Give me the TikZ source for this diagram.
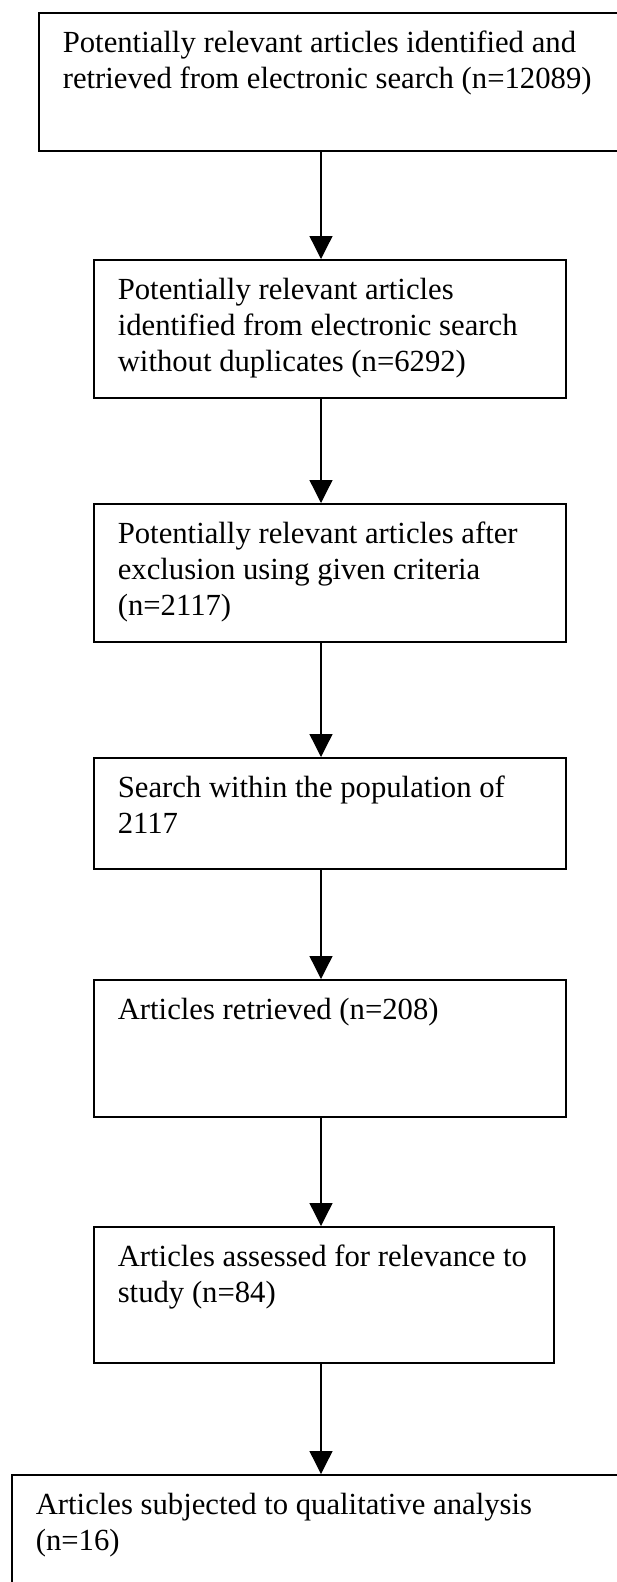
\documentclass[tikz,border=0pt]{standalone}
\usepackage{fontspec}
\setmainfont{Liberation Serif}
\usetikzlibrary{arrows.meta,calc}
\newcommand{\fbtext}[3]{\parbox[c][#2][t]{#1}{\fontsize{30.7pt}{36pt}\selectfont\raggedright\rule{0pt}{40pt}#3}}
\tikzset{
  flowbox/.style={draw=black, line width=1.6pt, inner xsep=24pt, inner ysep=0pt, anchor=north west},
  flowarrow/.style={draw=black, line width=1.3pt, -{Triangle[length=23pt,width=23pt]}}
}
\begin{document}
\begin{tikzpicture}[x=1pt,y=-1pt]
\useasboundingbox (0,0) rectangle (617,1582);
\coordinate (ax) at (321,0);
\node[flowbox] (b1) at (38,12) {\fbtext{554pt}{138pt}{Potentially relevant articles identified and\\retrieved from electronic search (n=12089)}};
\node[flowbox] (b2) at (93,259) {\fbtext{424pt}{138pt}{Potentially relevant articles\\identified from electronic search\\without duplicates (n=6292)}};
\node[flowbox] (b3) at (93,503) {\fbtext{424pt}{138pt}{Potentially relevant articles after\\exclusion using given criteria\\(n=2117)}};
\node[flowbox] (b4) at (93,757) {\fbtext{424pt}{111pt}{Search within the population of\\2117}};
\node[flowbox] (b5) at (93,979) {\fbtext{424pt}{137pt}{Articles retrieved (n=208)}};
\node[flowbox] (b6) at (93,1226) {\fbtext{412pt}{136pt}{Articles assessed for relevance to\\study (n=84)}};
\node[flowbox] (b7) at (11,1474) {\fbtext{592pt}{150pt}{Articles subjected to qualitative analysis\\(n=16)}};
\draw[flowarrow] (b1.south -| ax) -- (b2.north -| ax);
\draw[flowarrow] (b2.south -| ax) -- (b3.north -| ax);
\draw[flowarrow] (b3.south -| ax) -- (b4.north -| ax);
\draw[flowarrow] (b4.south -| ax) -- (b5.north -| ax);
\draw[flowarrow] (b5.south -| ax) -- (b6.north -| ax);
\draw[flowarrow] (b6.south -| ax) -- (b7.north -| ax);
\end{tikzpicture}
\end{document}
